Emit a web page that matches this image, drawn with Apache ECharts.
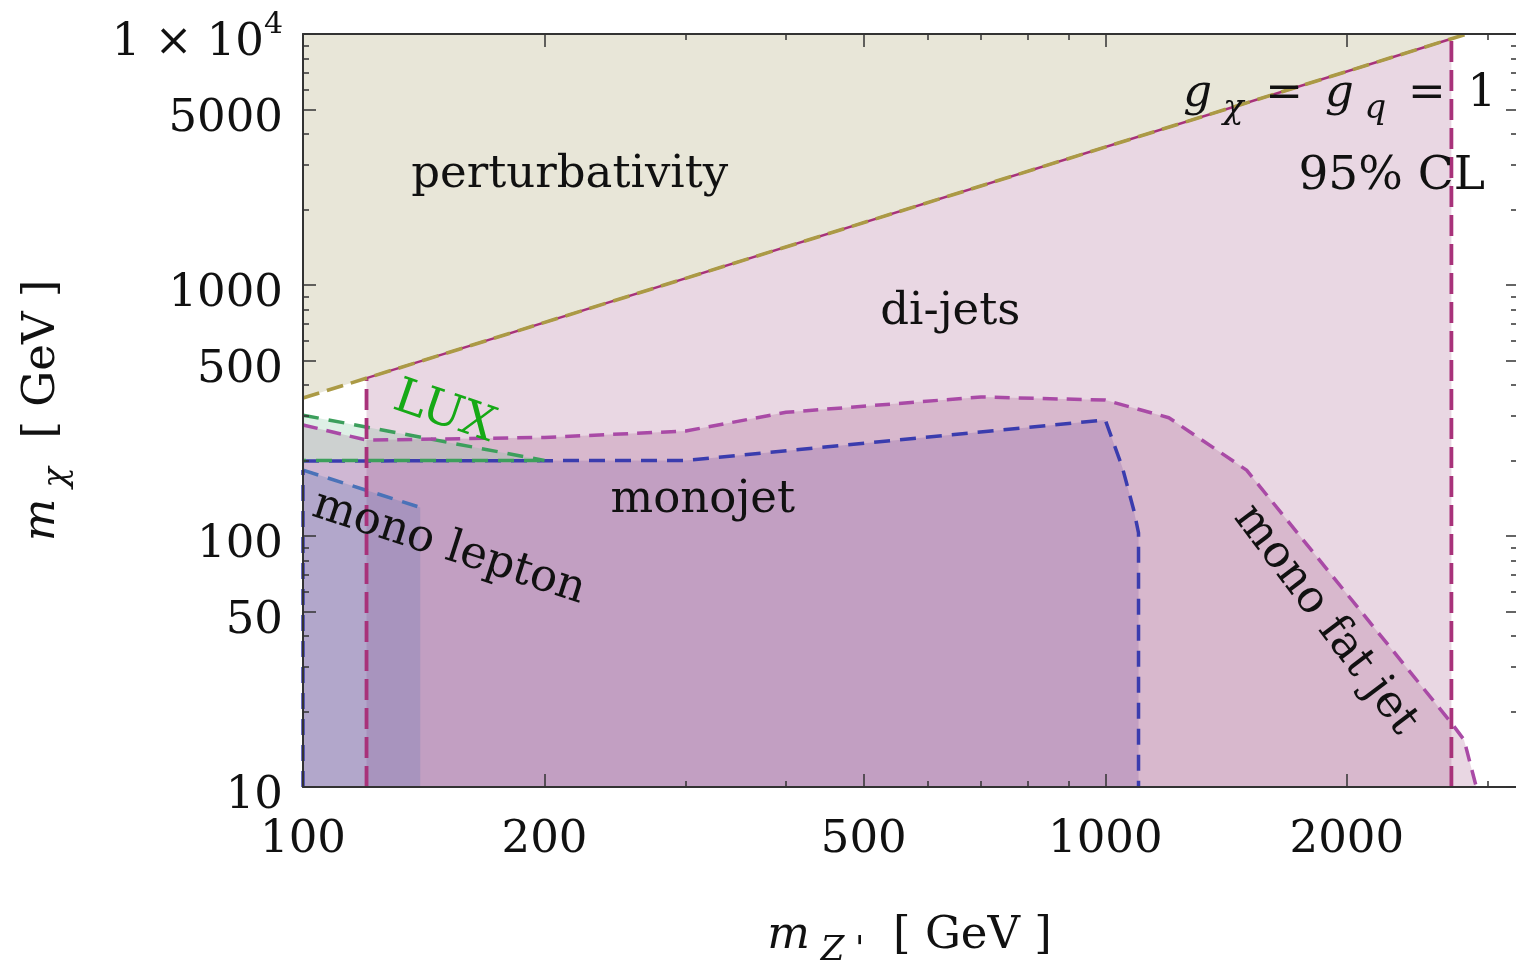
<!DOCTYPE html>
<html><head><meta charset="utf-8">
<script src="https://cdn.jsdelivr.net/npm/echarts@6/dist/echarts.min.js"></script>
<style>html,body{margin:0;padding:0;background:#fff}#c{width:1516px;height:963px}</style>
</head><body><div id="c"></div>
<script>
// ---------------- data (GeV) ----------------
const xRange = [100, 3250];
const yRange = [10, 10000];
const xMajorTicks = [100, 200, 500, 1000, 2000];
const xMinorTicks = [300, 400, 600, 700, 800, 900, 3000];
const yMajorTicks = [10, 50, 100, 500, 1000, 5000, 10000];
const yMinorTicks = [20, 30, 40, 60, 70, 80, 90, 200, 300, 400, 600, 700, 800, 900, 2000, 3000, 4000, 6000, 7000, 8000, 9000];

const perturbativityLine = [[100, 354.5], [2821, 10000]];
const perturbativityRegion = [[100, 354.5], [2821, 10000], [100, 10000]];
const dijetRegion = [[120, 10], [120, 425.4], [2700, 9572], [2700, 10]];
const dijetLeftEdge = [[120, 10], [120, 425.4]];
const dijetRightEdge = [[2700, 10], [2700, 9572]];
const dijetTopEdge = [[120, 425.4], [2700, 9572]];
const monoFatJetEdge = [[100, 277], [120, 241], [200, 247], [300, 262], [400, 311], [700, 358], [1000, 348], [1200, 296], [1500, 183], [2700, 18], [2800, 15.4], [2900, 10]];
const monoFatJetRegion = monoFatJetEdge.concat([[100, 10]]);
const monojetEdge = [[100, 199], [300, 200], [1000, 290], [1050, 188], [1085, 127], [1100, 103], [1100, 10]];
const monojetRegion = monojetEdge.concat([[100, 10]]);
const luxTopEdge = [[100, 303], [200, 200]];
const luxBottomEdge = [[100, 200], [200, 200]];
const luxRegion = [[100, 303], [200, 200], [100, 200]];
const monoLeptonEdge = [[100, 183], [140, 130]];
const monoLeptonLeftEdge = [[100, 10], [100, 183]];
const monoLeptonRegion = [[100, 10], [100, 183], [140, 130], [140, 10]];

// annotation texts and their anchor (data coords), layout only
const annotationTexts = ['perturbativity', 'di-jets', 'monojet', 'mono lepton', 'mono fat jet', 'LUX', '95% CL',
  '{i|g}{s| χ}{n| \u2006=\u2006 }{i|g}{s| q}{n| \u2006=\u2006 1}'];
const annotationAnchors = [[215, 2742], [641, 781], [315, 139], [152, 89.5], [1880, 46.3], [150, 309], [2275, 2692], [1960, 5500]];
const annotationRotation = [0, 0, 0, -18, -53, -19, 0, 0];

// ---------------- rendering ----------------
const L = v => Math.log10(v);
const FONT = 'DejaVu Serif';
const INK = '#111';

const RICH = {
  i: {fontFamily: FONT, fontSize: 45, fontStyle: 'italic', lineHeight: 45, verticalAlign: 'top', fill: INK, color: INK},
  n: {fontFamily: FONT, fontSize: 45, lineHeight: 45, verticalAlign: 'top', fill: INK, color: INK},
  s: {fontFamily: FONT, fontSize: 34, fontStyle: 'italic', lineHeight: 54, verticalAlign: 'bottom', fill: INK, color: INK}
};

function axisCfg(range, position, ticks, len, showLabel, showLine, isY) {
  const cfg = {
    type: 'value', position: position, min: L(range[0]), max: L(range[1]), z: 50,
    axisLine: {show: showLine, onZero: false, lineStyle: {color: '#333', width: 2}},
    axisTick: {show: true, inside: true, length: len, customValues: ticks.map(L), lineStyle: {color: '#333', width: 1.5}},
    axisLabel: {show: showLabel},
    splitLine: {show: false}
  };
  if (showLabel) {
    cfg.axisLabel = {
      show: true, customValues: ticks.map(L), margin: 20,
      padding: isY ? [8, 0, 0, 0] : 0,
      fontFamily: FONT, fontSize: 45, color: INK,
      formatter: v => {
        const n = Math.round(Math.pow(10, v));
        if (n === 10000) return '{m|1 × 10}{sup|4}';
        return '{m|' + n + '}';
      },
      rich: {
        m: {fontFamily: FONT, fontSize: 45, color: INK, lineHeight: 56, verticalAlign: 'bottom'},
        sup: {fontFamily: FONT, fontSize: 30, color: INK, lineHeight: 30, verticalAlign: 'top'}
      }
    };
  }
  return cfg;
}

function polygon(points, fill, z) {
  return {
    type: 'custom', xAxisIndex: 0, yAxisIndex: 0, z: z, silent: true,
    data: [[L(points[0][0]), L(points[0][1])]],
    renderItem: (params, api) => ({
      type: 'polygon',
      shape: {points: points.map(p => api.coord([L(p[0]), L(p[1])]))},
      style: {fill: fill, stroke: null}
    })
  };
}

function line(points, color, width, dash, z, offset) {
  return {
    type: 'line', xAxisIndex: 0, yAxisIndex: 0, z: z, silent: true,
    data: points.map(p => [L(p[0]), L(p[1])]),
    showSymbol: false, symbol: 'none', clip: false,
    lineStyle: {color: color, width: width, type: dash, dashOffset: offset || 0, cap: 'butt'}
  };
}

const annotations = {
  type: 'custom', xAxisIndex: 0, yAxisIndex: 0, z: 40, silent: true,
  data: annotationAnchors.map(a => [L(a[0]), L(a[1])]),
  renderItem: (params, api) => {
    const i = params.dataIndex;
    const p = api.coord([api.value(0), api.value(1)]);
    const t = annotationTexts[i];
    const isLux = t === 'LUX';
    return {
      type: 'text', x: p[0], y: p[1], rotation: annotationRotation[i] * Math.PI / 180,
      style: {
        text: t, rich: RICH,
        fontFamily: FONT, fontSize: isLux ? 48 : (t === '95% CL' ? 47 : 45), fill: isLux ? '#16a916' : INK,
        align: 'center', verticalAlign: 'middle'
      }
    };
  }
};

const fillA = 0.227;
const option = {
  animation: false,
  backgroundColor: '#fff',
  grid: {left: 303, right: 0, top: 34, bottom: 176, containLabel: false, outerBoundsMode: 'none'},
  xAxis: [
    Object.assign(axisCfg(xRange, 'bottom', xMajorTicks, 13, true, true, false), {
      name: '{i|m}{s| Z \'}{n|  [ GeV ]}', nameLocation: 'middle', nameGap: 127,
      nameTextStyle: {fontFamily: FONT, fontSize: 45, color: INK, rich: RICH}
    }),
    axisCfg(xRange, 'bottom', xMinorTicks, 6, false, false, false),
    axisCfg(xRange, 'top', xMajorTicks, 13, false, true, false),
    axisCfg(xRange, 'top', xMinorTicks, 6, false, false, false)
  ],
  yAxis: [
    Object.assign(axisCfg(yRange, 'left', yMajorTicks, 13, true, true, true), {
      name: '{i|m}{s| χ}{n|  [ GeV ]}', nameLocation: 'middle', nameGap: 229,
      nameTextStyle: {fontFamily: FONT, fontSize: 45, color: INK, rich: RICH}
    }),
    axisCfg(yRange, 'left', yMinorTicks, 6, false, false, true),
    axisCfg(yRange, 'right', yMajorTicks, 10, false, false, true),
    axisCfg(yRange, 'right', yMinorTicks, 5, false, false, true)
  ],
  series: [
    polygon(perturbativityRegion, 'rgb(232,230,216)', 1),
    polygon(dijetRegion, 'rgba(158,79,132,' + fillA + ')', 2),
    polygon(monoFatJetRegion, 'rgba(158,79,132,' + fillA + ')', 3),
    polygon(monojetRegion, 'rgba(119,76,159,' + fillA + ')', 4),
    polygon(luxRegion, 'rgba(110,190,145,' + fillA + ')', 5),
    polygon(monoLeptonRegion, 'rgba(80,115,177,' + fillA + ')', 6),
    line(monoLeptonEdge, '#4a72b8', 3.5, [16, 10], 10),
    line(monoLeptonLeftEdge, '#3d3fae', 3.5, [16, 10], 10),
    line(monojetEdge, '#3a3cae', 3.5, [16, 10], 11),
    line(luxBottomEdge, '#3c9f5c', 3.5, [16, 10], 12, 13),
    line(luxTopEdge, '#3c9f5c', 3.5, [16, 10], 12),
    line(monoFatJetEdge, '#a94aa6', 3.5, [15, 9], 13),
    line(dijetLeftEdge, '#a8327a', 3.8, [21, 8], 14),
    line(dijetRightEdge, '#a8327a', 3.8, [21, 8], 14),
    line(dijetTopEdge, '#a8327a', 2.5, 'solid', 15),
    line(perturbativityLine, '#ab9a45', 3.6, [17, 8], 16),
    annotations
  ]
};

const chart = echarts.init(document.getElementById('c'), null, {renderer: 'canvas'});
chart.setOption(option);
</script>
</body></html>
